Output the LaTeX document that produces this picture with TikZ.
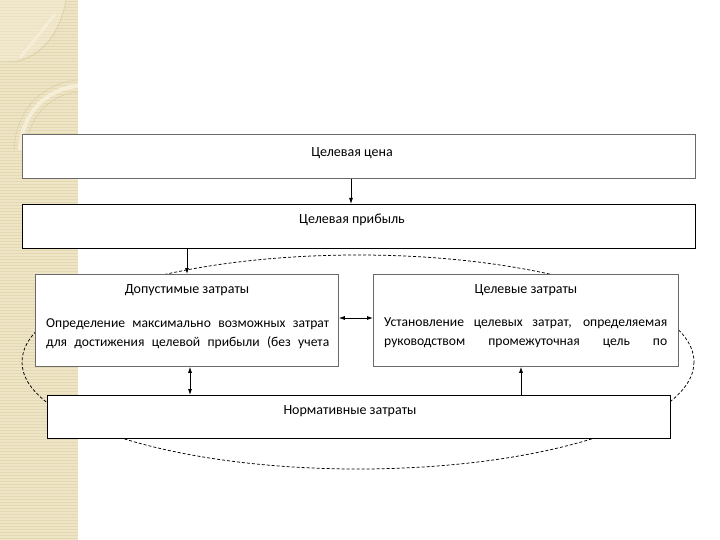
\documentclass[tikz,border=0pt]{standalone}
\usepackage{fontspec}
\setmainfont{Carlito}
\usetikzlibrary{arrows.meta}
\definecolor{strip}{HTML}{EEE4C6}
\definecolor{stripline}{HTML}{E4D8B2}
\definecolor{striplight}{HTML}{F5EDD5}
\definecolor{stripdark}{HTML}{D8CBA2}
\definecolor{graybd}{HTML}{6A6A6A}
\begin{document}
\begin{tikzpicture}[x=1pt,y=-1pt,
  box/.style={draw=graybd, line width=0.8pt, fill=white, inner sep=0pt, anchor=north west},
  boxb/.style={draw=black, line width=1.4pt, fill=white, inner sep=0pt, anchor=north west},
  lbl/.style={font=\fontsize{14}{16}\selectfont, inner sep=0pt},
  txt/.style={font=\fontsize{13.6}{16}\selectfont, inner sep=0pt, anchor=west},
  arr/.style={-{Latex[length=6pt,width=4pt]}, line width=0.8pt},
  darr/.style={{Latex[length=6pt,width=4pt]}-{Latex[length=6pt,width=4pt]}, line width=0.8pt},
  oval/.style={draw=black, dash pattern=on 3pt off 2pt, line width=0.75pt}]
\useasboundingbox (0,0) rectangle (720,540);
\fill[white] (0,0) rectangle (720,540);
% decorative strip
\fill[strip] (0,0) rectangle (78,540);
\foreach \yy in {1,4,...,540} \draw[stripline, line width=0.6pt] (0,\yy) -- (78,\yy);
\fill[striplight, opacity=0.5] (0,0) -- (66,0) .. controls (58,35) and (40,60) .. (0,62) -- cycle;
\draw[stripdark, line width=0.5pt] (0,62) -- (14,62) .. controls (40,58) and (60,35) .. (66,0);
\draw[striplight, line width=3pt] (20,58) -- (55,14);
\draw[striplight, line width=4pt] (20,150) .. controls (22,110) and (50,88) .. (78,86);
\draw[stripdark, line width=0.4pt] (14,150) .. controls (16,105) and (48,82) .. (78,80);
\draw[stripdark, line width=0.4pt] (26,150) .. controls (28,115) and (52,94) .. (78,92);
% dashed oval
\draw[oval] (358,362) ellipse [x radius=336, y radius=107];
% boxes
\node[box, minimum width=673pt, minimum height=44pt] (cena) at (22,134) {};
\node[boxb, minimum width=673pt, minimum height=44pt] (prib) at (22,204) {};
\node[box, minimum width=303pt, minimum height=92pt] (dop) at (35,274) {};
\node[box, minimum width=305pt, minimum height=92pt] (cel) at (373,274) {};
\node[boxb, minimum width=623pt, minimum height=43pt] (norm) at (47,395) {};
% labels
\node[lbl] (tcena) at (352,153) {Целевая цена};
\node[lbl] (tprib) at (352,220) {Целевая прибыль};
\node[lbl] (tdop) at (187,290) {Допустимые затраты};
\node[lbl] (tcel) at (526,290) {Целевые затраты};
\node[lbl] (tnorm) at (350,411) {Нормативные затраты};
\node[txt] (dop1) at (46,324) {\makebox[283pt][s]{Определение максимально возможных затрат}};
\node[txt] (dop2) at (46,343) {\makebox[283pt][s]{для достижения целевой прибыли (без учета}};
\node[txt] (cel1) at (384,323) {\makebox[283pt][s]{Установление целевых затрат, определяемая}};
\node[txt] (cel2) at (384,343) {\makebox[283pt][s]{руководством промежуточная цель по}};
% connectors
\coordinate (xa) at (351,0);
\coordinate (xb) at (187,0);
\coordinate (xc) at (190,0);
\coordinate (xd) at (521,0);
\coordinate (ya) at (0,318);
\draw[arr] (cena.south -| xa) -- (prib.north -| xa);
\draw[arr] (prib.south -| xb) -- (dop.north -| xb);
\draw[darr] (dop.east |- ya) -- (cel.west |- ya);
\draw[darr] (dop.south -| xc) -- (norm.north -| xc);
\draw[arr] (norm.north -| xd) -- (cel.south -| xd);
\end{tikzpicture}
\end{document}
